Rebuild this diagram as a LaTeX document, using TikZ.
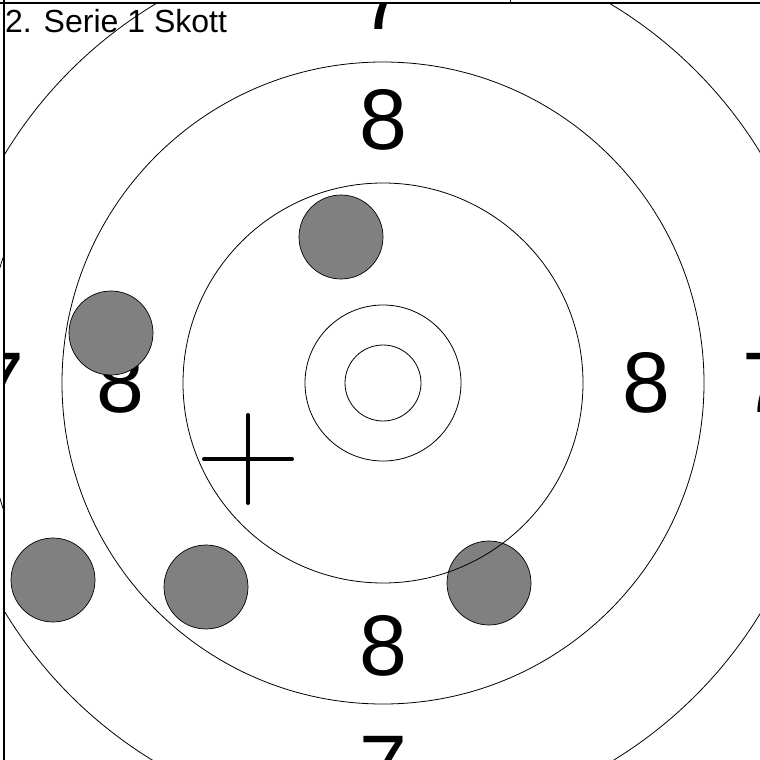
\documentclass[tikz,border=0pt]{standalone}
\usepackage{fontspec}
\setmainfont{Liberation Sans}
\definecolor{shotgray}{HTML}{808080}
\begin{document}
\begin{tikzpicture}[x=1pt,y=-1pt,
  ring/.style={draw=black, line width=0.8pt},
  shot/.style={circle, draw=black, line width=0.7pt, fill=shotgray, minimum size=84pt, inner sep=0pt},
  big/.style={font=\fontsize{86}{86}\selectfont, inner sep=0pt},
  frameline/.style={draw=black, line width=1.6pt}]
\useasboundingbox (0,0) rectangle (760,760);
\fill[white] (0,0) rectangle (760,760);
% neighbouring panel arc at the left edge
\begin{scope}
  \clip (-1,0) rectangle (4,760);
  \draw[ring] (383,383) circle[radius=400pt];
\end{scope}
\begin{scope}
  \clip (4,3) rectangle (760,760);
  \coordinate (c) at (383,383);
  % ring labels
  \node[big] (l8t) at (383,120) {8};
  \node[big] (l8b) at (383,646) {8};
  \node[big] (l8l) at (120,383) {8};
  \node[big] (l8r) at (646,383) {8};
  \node[big] (l7t) at (383,0) {7};
  \node[big] (l7b) at (383,766) {7};
  \node[big] (l7l) at (0,383) {7};
  \node[big] (l7r) at (766,383) {7};
  % title
  \node[anchor=base west, inner sep=0pt, font=\fontsize{32}{32}\selectfont] (title) at (5,33) {2. Serie 1 Skott};
  % shots
  \node[shot] (s1) at (341,237) {};
  \node[shot] (s2) at (111,333) {};
  \node[shot] (s3) at (53,580) {};
  \node[shot] (s4) at (206,587) {};
  \node[shot] (s5) at (489,583) {};
  % rings
  \foreach \r in {38,78,200,321,442} {
    \draw[ring] (c) circle[radius=\r pt];
  }
  % aim cross
  \coordinate (cr) at (248,459);
  \draw[line width=4pt, line cap=round] ([xshift=-44pt]cr) -- ([xshift=44pt]cr);
  \draw[line width=4pt, line cap=round] ([yshift=44pt]cr) -- ([yshift=-44pt]cr);
\end{scope}
% frame
\coordinate (tl) at (4,0);
\coordinate (bl) at (4,760);
\coordinate (t0) at (0,3);
\coordinate (t1) at (760,3);
\coordinate (k0) at (510,0);
\coordinate (k1) at (510,3);
\draw[frameline] (t0) -- (t1);
\draw[draw=black, line width=1.4pt] (tl) -- (bl);
\draw[draw=black, line width=1pt] (k0) -- (k1);
\end{tikzpicture}
\end{document}
